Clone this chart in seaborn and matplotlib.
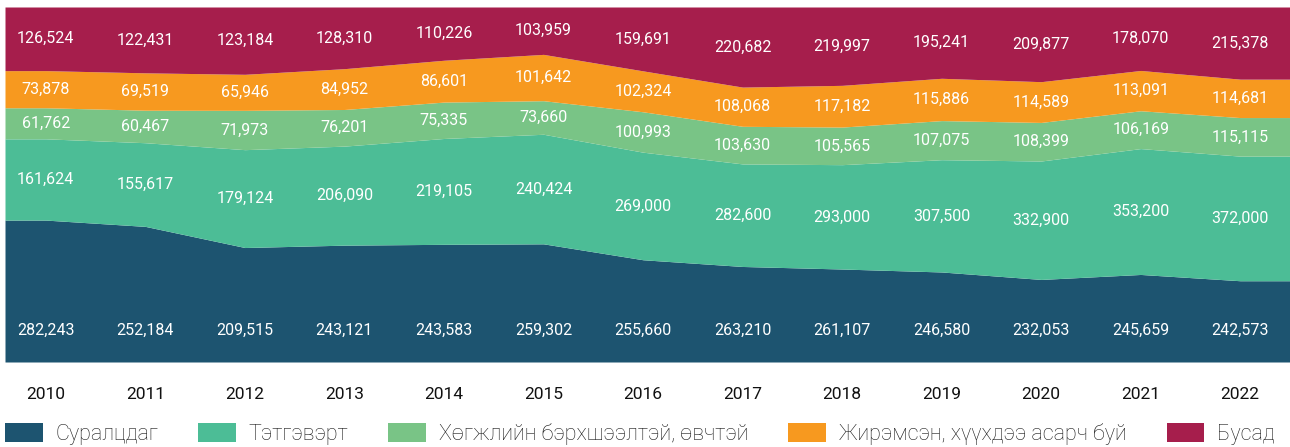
import numpy as np
import matplotlib
matplotlib.use("Agg")
import matplotlib.pyplot as plt
from matplotlib.patches import Rectangle
import seaborn as sns

# Data
years = [2010, 2011, 2012, 2013, 2014, 2015, 2016, 2017, 2018, 2019, 2020, 2021, 2022]
students = [282243, 252184, 209515, 243121, 243583, 259302, 255660, 263210, 261107, 246580, 232053, 245659, 242573]
pension = [161624, 155617, 179124, 206090, 219105, 240424, 269000, 282600, 293000, 307500, 332900, 353200, 372000]
disabled = [61762, 60467, 71973, 76201, 75335, 73660, 100993, 103630, 105565, 107075, 108399, 106169, 115115]
pregnant = [73878, 69519, 65946, 84952, 86601, 101642, 102324, 108068, 117182, 115886, 114589, 113091, 114681]
other = [126524, 122431, 123184, 128310, 110226, 103959, 159691, 220682, 219997, 195241, 209877, 178070, 215378]
series_names = ["Суралцдаг", "Тэтгэвэрт", "Хөгжлийн бэрхшээлтэй, өвчтэй",
                "Жирэмсэн, хүүхдээ асарч буй", "Бусад"]
colors = ["#1d5470", "#4cbd96", "#79c486", "#f7991f", "#a61e4c"]

sns.set_theme(style="white")
plt.rcParams['font.family'] = ['Roboto', 'DejaVu Sans']

# Data preparation: share of each group per year
values = np.array([students, pension, disabled, pregnant, other], dtype=float)
shares = values / values.sum(axis=0)

# extend the areas to the edges of the plot
x_left, x_right = years[0] - 0.41, years[-1] + 0.5
x_ext = np.concatenate([[x_left], years, [x_right]])
shares_ext = np.hstack([shares[:, :1], shares, shares[:, -1:]])

fig = plt.figure(figsize=(12.9, 4.47), dpi=100)
ax = fig.add_axes([5 / 1290, (447 - 362) / 447, 1285 / 1290, 355 / 447])
ax.stackplot(x_ext, shares_ext, colors=colors, linewidth=0)
ax.set_xlim(x_left, x_right)
ax.set_ylim(0, 1)

# value labels inside each band
cum = np.vstack([np.zeros(len(years)), np.cumsum(shares, axis=0)])
for k in range(len(series_names)):
    for i, yr in enumerate(years):
        if k == 0:
            ypos = 0.09
        else:
            ypos = (cum[k, i] + cum[k + 1, i]) / 2
        ax.text(yr, ypos, f"{int(values[k, i]):,}", fontsize=11.5, color='white',
                ha='center', va='center')

ax.set_yticks([])
ax.set_xticks(years)
ax.set_xticklabels([str(y) for y in years], fontsize=12.5, fontweight='normal', color='#111111')
ax.tick_params(axis='x', length=0, pad=18)
for s in ax.spines.values():
    s.set_visible(False)

handles = [Rectangle((0, 0), 1, 1, facecolor=c, edgecolor='none') for c in colors]
fig.legend(handles, series_names, loc='center left', bbox_to_anchor=(5 / 1290, 13 / 447),
           ncol=5, frameon=False, fontsize=15.5, handlelength=1.75, handleheight=1.0,
           handletextpad=0.6, columnspacing=1.85, borderaxespad=0, borderpad=0)
for t in fig.legends[0].get_texts():
    t.set_fontweight('light')
    t.set_color('#1a1a1a')

fig.savefig("out.png", dpi=100)
